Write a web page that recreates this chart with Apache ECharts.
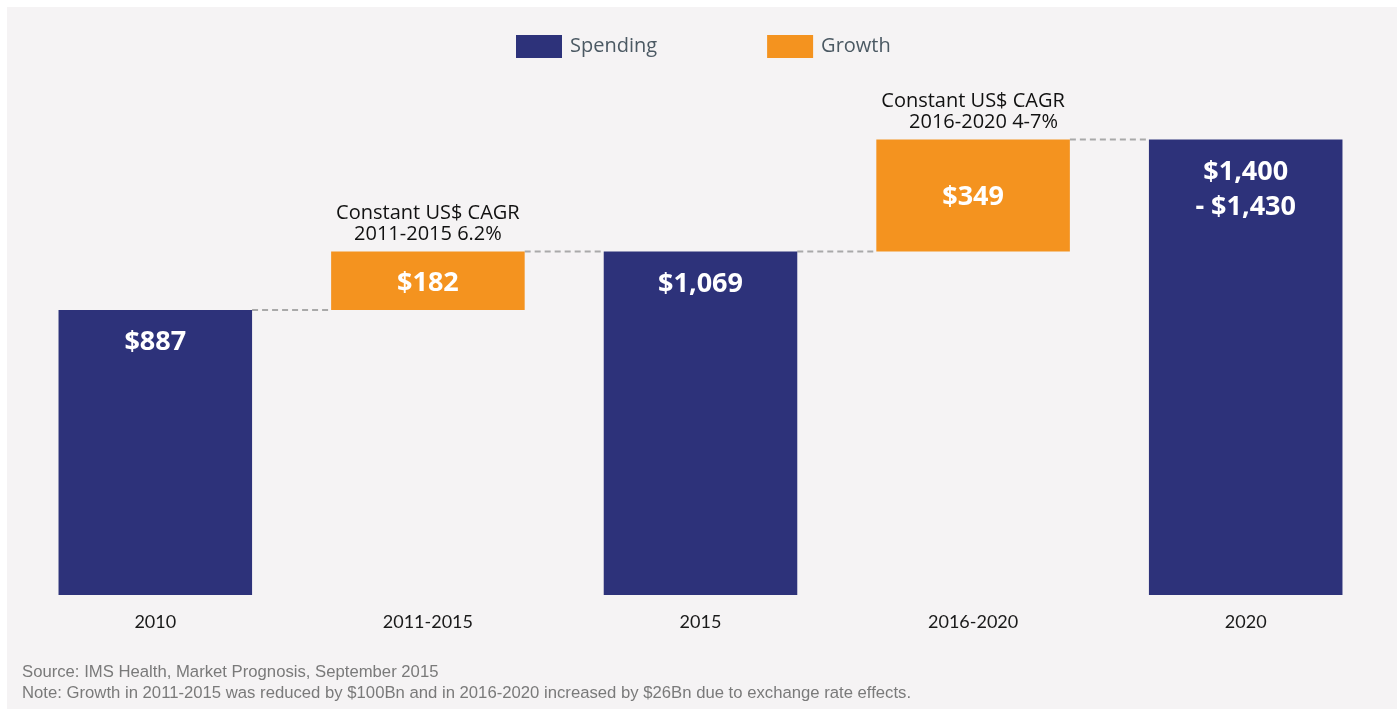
<!DOCTYPE html>
<html>
<head>
<meta charset="utf-8">
<script src="https://cdn.jsdelivr.net/npm/echarts@6/dist/echarts.min.js"></script>
<style>
  html, body { margin: 0; padding: 0; background: #ffffff; }
  #chart { width: 1397px; height: 709px; }
</style>
</head>
<body>
<div id="chart"></div>
<script>
// data (US$ Bn)
const categories = ['2010', '2011-2015', '2015', '2016-2020', '2020']
const spending = [887, null, 1069, null, 1418]
const growth = [null, 182, null, 349, null]
const growthBase = [null, 887, null, 1069, null]
const valueLabels = ['$887', '$182', '$1,069', '$349', '$1,400\n- $1,430']
const cagrNotes = [null, 'Constant US$ CAGR\n2011-2015 6.2%', null, 'Constant US$ CAGR\n    2016-2020 4-7%', null]
const footnotes = [
  'Source: IMS Health, Market Prognosis, September 2015',
  'Note: Growth in 2011-2015 was reduced by $100Bn and in 2016-2020 increased by $26Bn due to exchange rate effects.',
]

const NAVY = '#2d327a'
const ORANGE = '#f4931f'
const BAR_RATIO = 0.71

// top of each bar, used for the dashed connectors
const tops = categories.map((c, i) => spending[i] != null ? spending[i] : growthBase[i] + growth[i])
const connectors = tops.slice(0, -1).map((v, i) => [i, v])

const chart = echarts.init(document.getElementById('chart'))

const option = {
  backgroundColor: '#ffffff',
  animation: false,
  graphic: [
    {
      type: 'rect',
      left: 7,
      top: 7,
      z: -100,
      silent: true,
      shape: { width: 1390, height: 702 },
      style: { fill: '#f5f3f4' },
    },
    {
      type: 'text',
      left: 22,
      top: 662,
      style: {
        text: footnotes.join('\n'),
        font: '16.7px "Liberation Sans"',
        lineHeight: 21,
        fill: '#7a7a7a',
      },
    },
  ],
  legend: {
    data: ['Spending', 'Growth'],
    top: 30,
    left: 511,
    itemWidth: 46,
    itemHeight: 23,
    itemGap: 110,
    icon: 'rect',
    textStyle: {
      color: '#4b5963',
      fontSize: 20,
      fontFamily: 'Open Sans',
      padding: [0, 0, 0, 3],
    },
  },
  grid: {
    left: 19,
    right: 15,
    top: 81,
    bottom: 114,
  },
  xAxis: {
    type: 'category',
    data: categories,
    axisLine: { show: false },
    axisTick: { show: false },
    axisLabel: {
      color: '#1a1a1a',
      fontSize: 18,
      fontFamily: 'Lato',
      margin: 18,
    },
  },
  yAxis: {
    type: 'value',
    show: false,
    min: 0,
    max: 1600,
    splitLine: { show: false },
  },
  series: [
    {
      name: 'base',
      type: 'bar',
      stack: 'w',
      barWidth: (BAR_RATIO * 100) + '%',
      itemStyle: { color: 'transparent' },
      emphasis: { disabled: true },
      data: growthBase,
    },
    {
      name: 'Spending',
      type: 'bar',
      stack: 'w',
      barWidth: (BAR_RATIO * 100) + '%',
      itemStyle: { color: NAVY },
      label: {
        show: true,
        position: 'insideTop',
        distance: 15,
        color: '#ffffff',
        fontSize: 27,
        fontWeight: 'bold',
        fontFamily: 'Open Sans',
        lineHeight: 35,
        formatter: (p) => valueLabels[p.dataIndex],
      },
      data: spending,
    },
    {
      name: 'Growth',
      type: 'bar',
      stack: 'w',
      barWidth: (BAR_RATIO * 100) + '%',
      itemStyle: { color: ORANGE },
      label: {
        show: true,
        position: 'inside',
        offset: [0, 2],
        color: '#ffffff',
        fontSize: 27,
        fontWeight: 'bold',
        fontFamily: 'Open Sans',
        formatter: (p) => valueLabels[p.dataIndex],
      },
      data: growth,
    },
    {
      // CAGR notes sit above the orange blocks
      name: 'notes',
      type: 'bar',
      stack: 'w',
      barWidth: (BAR_RATIO * 100) + '%',
      itemStyle: { color: 'transparent' },
      label: {
        show: true,
        position: 'insideBottom',
        distance: 7,
        color: '#111111',
        fontSize: 20,
        fontFamily: 'Open Sans',
        lineHeight: 21,
        formatter: (p) => cagrNotes[p.dataIndex] || '',
      },
      data: cagrNotes.map((n) => (n ? 0.0001 : null)),
    },
    {
      name: 'connectors',
      type: 'custom',
      z: 1,
      silent: true,
      renderItem: (params, api) => {
        const p = api.coord([api.value(0), api.value(1)])
        const band = api.size([1, 0])[0]
        const half = band * BAR_RATIO / 2
        return {
          type: 'line',
          shape: { x1: p[0] + half, y1: p[1], x2: p[0] + band - half, y2: p[1] },
          style: { stroke: '#a9a9a9', lineWidth: 2, lineDash: [6, 4] },
        }
      },
      data: connectors,
    },
  ],
}

chart.setOption(option)
</script>
</body>
</html>
